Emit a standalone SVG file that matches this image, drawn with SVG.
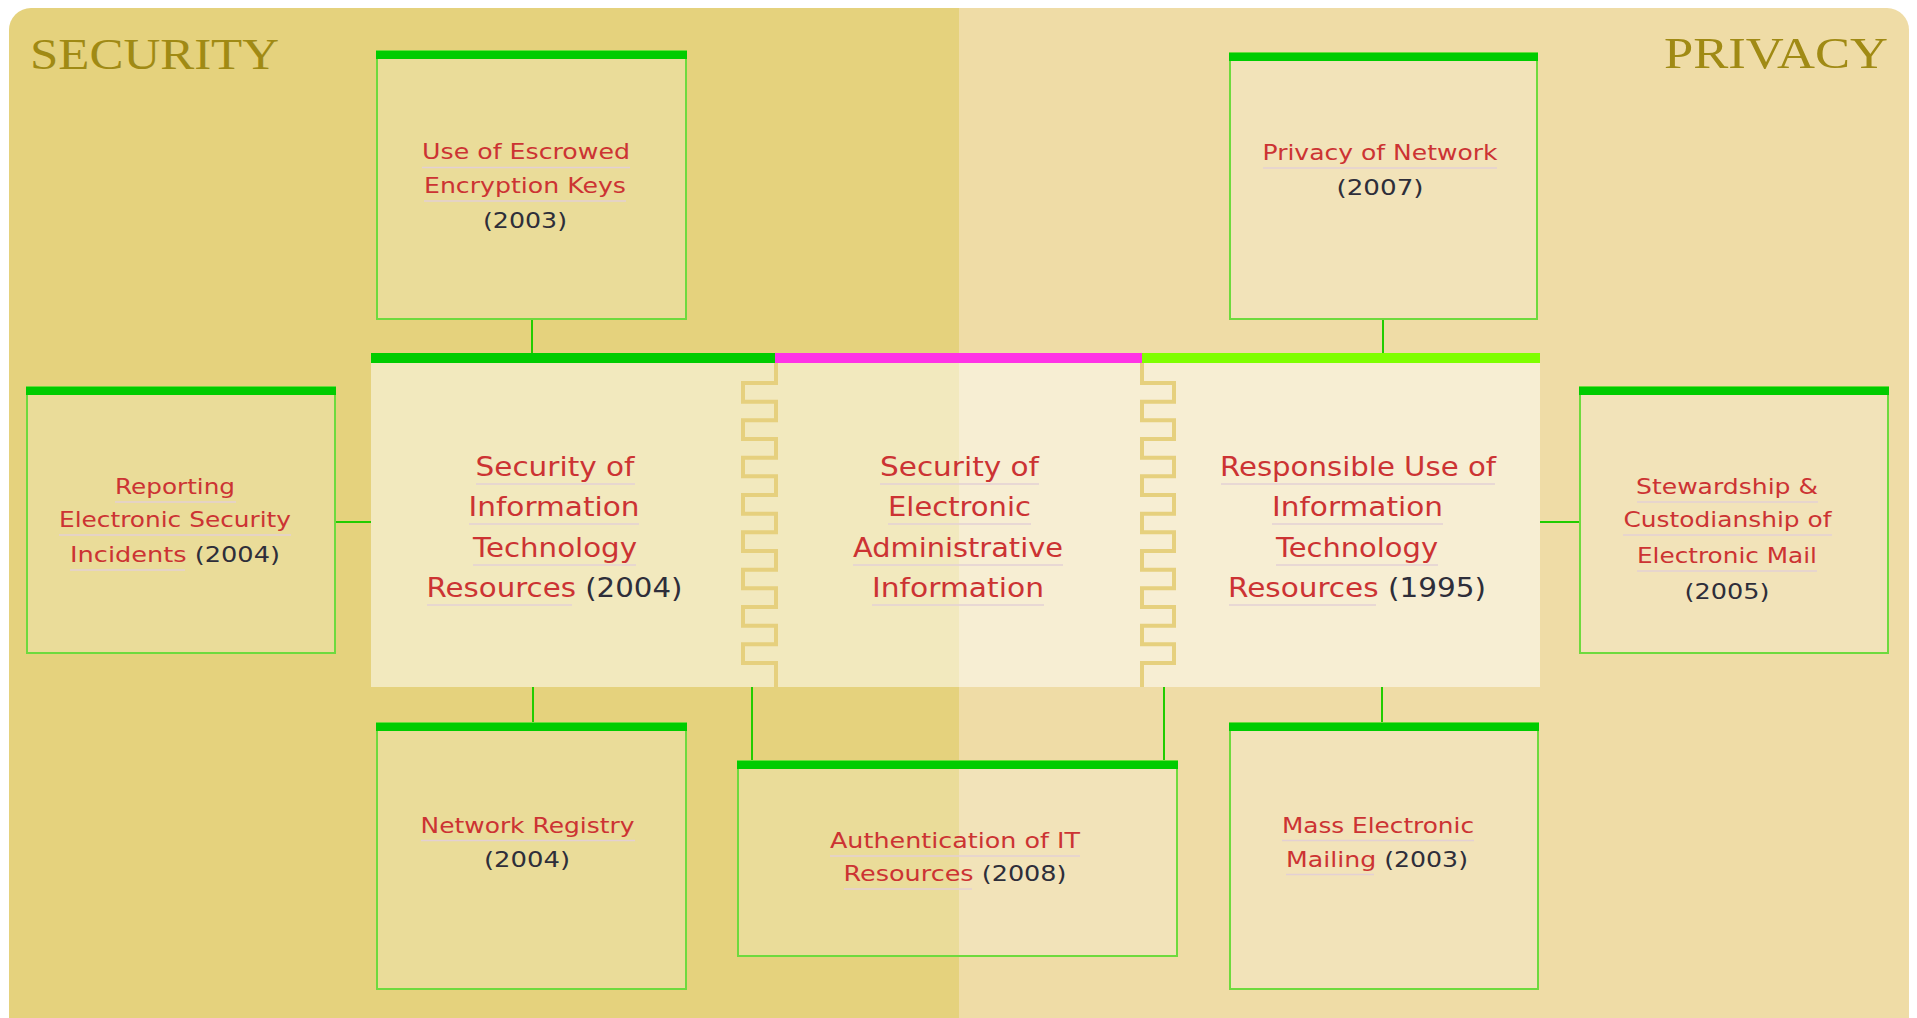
<svg xmlns="http://www.w3.org/2000/svg" width="1917" height="1018" viewBox="0 0 1917 1018">
<style>
.sat{fill:#ffffff;fill-opacity:0.22;stroke:#6EDA3E;stroke-width:2}
.bar{fill:#00CC00}
.t{font-family:"DejaVu Sans","Verdana",sans-serif;font-size:21px;fill:#CC3333;text-anchor:middle}
.c{font-size:26px}
.y{fill:#2E2E3A}
.ul{stroke:#E3D0D4;stroke-width:1.5}
.con{stroke:#22CC00;stroke-width:2;fill:none}
.zig{stroke:#E6D07E;stroke-width:4;fill:none}
.title{font-family:"Liberation Serif","Times New Roman",serif;font-size:45px;fill:#A08A14}
</style>
<rect x="0" y="0" width="1917" height="1018" fill="#ffffff"/>
<g id="background">
<path d="M9,1040 V30 A22,22 0 0 1 31,8 H959 V1040 Z" fill="#E5D27D"/>
<path d="M959,8 H1887 A22,22 0 0 1 1909,30 V1040 H959 Z" fill="#EFDCA6"/>
<text class="title" x="30" y="69" textLength="249" lengthAdjust="spacingAndGlyphs">SECURITY</text>
<text class="title" x="1664" y="68" textLength="224" lengthAdjust="spacingAndGlyphs">PRIVACY</text>
</g>
<g id="connectors">
<line class="con" x1="532" y1="319" x2="532" y2="353"/>
<line class="con" x1="1383" y1="319" x2="1383" y2="353"/>
<line class="con" x1="335" y1="522" x2="371" y2="522"/>
<line class="con" x1="1540" y1="522" x2="1580" y2="522"/>
<line class="con" x1="533" y1="687" x2="533" y2="723"/>
<line class="con" x1="752" y1="687" x2="752" y2="761"/>
<line class="con" x1="1164" y1="687" x2="1164" y2="761"/>
<line class="con" x1="1382" y1="687" x2="1382" y2="723"/>
</g>
<g id="central">
<rect x="371" y="353" width="1169" height="334" fill="#ffffff" fill-opacity="0.5"/>
<path class="zig" d="M776,363 V383 H743 V401.7 H776 V420.3 H743 V439 H776 V457.7 H743 V476.3 H776 V495 H743 V513.7 H776 V532.3 H743 V551 H776 V569.7 H743 V588.3 H776 V607 H743 V625.7 H776 V644.3 H743 V663 H776 V687"/>
<path class="zig" d="M1142,363 V383 H1174 V401.7 H1142 V420.3 H1174 V439 H1142 V457.7 H1174 V476.3 H1142 V495 H1174 V513.7 H1142 V532.3 H1174 V551 H1142 V569.7 H1174 V588.3 H1142 V607 H1174 V625.7 H1142 V644.3 H1174 V663 H1142 V687"/>
<rect x="371" y="353" width="404" height="10" fill="#00CC00"/>
<rect x="775" y="353" width="367" height="10" fill="#FF33E6"/>
<rect x="1142" y="353" width="398" height="10" fill="#7FFF00"/>
</g>
<g id="node-security-it">
<text class="t c" x="555" y="476" textLength="159" lengthAdjust="spacingAndGlyphs">Security of</text>
<text class="t c" x="554" y="516" textLength="171" lengthAdjust="spacingAndGlyphs">Information</text>
<text class="t c" x="555" y="557" textLength="164" lengthAdjust="spacingAndGlyphs">Technology</text>
<text class="t c" x="554.5" y="597" textLength="256" lengthAdjust="spacingAndGlyphs">Resources <tspan class="y">(2004)</tspan></text>
<line class="ul" x1="476" y1="484" x2="635" y2="484"/>
<line class="ul" x1="469" y1="524" x2="639" y2="524"/>
<line class="ul" x1="473" y1="565" x2="636" y2="565"/>
<line class="ul" x1="427" y1="605" x2="572" y2="605"/>
</g>
<g id="node-security-admin">
<text class="t c" x="959.5" y="476" textLength="159" lengthAdjust="spacingAndGlyphs">Security of</text>
<text class="t c" x="959.5" y="516" textLength="143" lengthAdjust="spacingAndGlyphs">Electronic</text>
<text class="t c" x="958" y="557" textLength="210" lengthAdjust="spacingAndGlyphs">Administrative</text>
<text class="t c" x="958" y="597" textLength="172" lengthAdjust="spacingAndGlyphs">Information</text>
<line class="ul" x1="880" y1="484" x2="1039" y2="484"/>
<line class="ul" x1="888" y1="524" x2="1031" y2="524"/>
<line class="ul" x1="853" y1="565" x2="1063" y2="565"/>
<line class="ul" x1="872" y1="605" x2="1044" y2="605"/>
</g>
<g id="node-responsible-use">
<text class="t c" x="1358" y="476" textLength="276" lengthAdjust="spacingAndGlyphs">Responsible Use of</text>
<text class="t c" x="1357.5" y="516" textLength="171" lengthAdjust="spacingAndGlyphs">Information</text>
<text class="t c" x="1357" y="557" textLength="162" lengthAdjust="spacingAndGlyphs">Technology</text>
<text class="t c" x="1357" y="597" textLength="258" lengthAdjust="spacingAndGlyphs">Resources <tspan class="y">(1995)</tspan></text>
<line class="ul" x1="1221" y1="484" x2="1495" y2="484"/>
<line class="ul" x1="1272" y1="524" x2="1443" y2="524"/>
<line class="ul" x1="1276" y1="565" x2="1438" y2="565"/>
<line class="ul" x1="1229" y1="605" x2="1376" y2="605"/>
</g>
<g id="node-escrowed">
<rect class="sat" x="377" y="51" width="309" height="268"/>
<rect class="bar" x="376" y="51" width="311" height="8"/>
<text class="t" x="526" y="159" textLength="208" lengthAdjust="spacingAndGlyphs">Use of Escrowed</text>
<text class="t" x="525" y="193" textLength="202" lengthAdjust="spacingAndGlyphs">Encryption Keys</text>
<text class="t y" x="525" y="228" textLength="84" lengthAdjust="spacingAndGlyphs">(2003)</text>
<line class="ul" x1="422" y1="167.5" x2="630" y2="167.5"/>
<line class="ul" x1="424" y1="201" x2="626" y2="201"/>
</g>
<g id="node-privacy-network">
<rect class="sat" x="1230" y="53" width="307" height="266"/>
<rect class="bar" x="1229" y="53" width="309" height="8"/>
<text class="t" x="1380" y="160" textLength="235" lengthAdjust="spacingAndGlyphs">Privacy of Network</text>
<text class="t y" x="1380" y="195" textLength="87" lengthAdjust="spacingAndGlyphs">(2007)</text>
<line class="ul" x1="1263" y1="168" x2="1497" y2="168"/>
</g>
<g id="node-reporting">
<rect class="sat" x="27" y="387" width="308" height="266"/>
<rect class="bar" x="26" y="387" width="310" height="8"/>
<text class="t" x="175" y="494" textLength="120" lengthAdjust="spacingAndGlyphs">Reporting</text>
<text class="t" x="175" y="527" textLength="232" lengthAdjust="spacingAndGlyphs">Electronic Security</text>
<text class="t" x="175" y="562" textLength="210" lengthAdjust="spacingAndGlyphs">Incidents <tspan class="y">(2004)</tspan></text>
<line class="ul" x1="115" y1="502" x2="236" y2="502"/>
<line class="ul" x1="59" y1="535" x2="291" y2="535"/>
<line class="ul" x1="70" y1="570" x2="185" y2="570"/>
</g>
<g id="node-stewardship">
<rect class="sat" x="1580" y="387" width="308" height="266"/>
<rect class="bar" x="1579" y="387" width="310" height="8"/>
<text class="t" x="1727" y="494" textLength="182" lengthAdjust="spacingAndGlyphs">Stewardship &amp;</text>
<text class="t" x="1727.5" y="527" textLength="208" lengthAdjust="spacingAndGlyphs">Custodianship of</text>
<text class="t" x="1727" y="563" textLength="180" lengthAdjust="spacingAndGlyphs">Electronic Mail</text>
<text class="t y" x="1727" y="599" textLength="85" lengthAdjust="spacingAndGlyphs">(2005)</text>
<line class="ul" x1="1637" y1="502" x2="1818" y2="502"/>
<line class="ul" x1="1623" y1="535" x2="1832" y2="535"/>
<line class="ul" x1="1637" y1="571" x2="1817" y2="571"/>
</g>
<g id="node-network-registry">
<rect class="sat" x="377" y="723" width="309" height="266"/>
<rect class="bar" x="376" y="723" width="311" height="8"/>
<text class="t" x="527.5" y="833" textLength="214" lengthAdjust="spacingAndGlyphs">Network Registry</text>
<text class="t y" x="527" y="867" textLength="86" lengthAdjust="spacingAndGlyphs">(2004)</text>
<line class="ul" x1="421" y1="840.5" x2="635" y2="840.5"/>
</g>
<g id="node-authentication">
<rect class="sat" x="738" y="761" width="439" height="195"/>
<rect class="bar" x="737" y="761" width="441" height="8"/>
<text class="t" x="955" y="848" textLength="250" lengthAdjust="spacingAndGlyphs">Authentication of IT</text>
<text class="t" x="955" y="881" textLength="223" lengthAdjust="spacingAndGlyphs">Resources <tspan class="y">(2008)</tspan></text>
<line class="ul" x1="830" y1="856" x2="1080" y2="856"/>
<line class="ul" x1="844" y1="889" x2="972" y2="889"/>
</g>
<g id="node-mass-mailing">
<rect class="sat" x="1230" y="723" width="308" height="266"/>
<rect class="bar" x="1229" y="723" width="310" height="8"/>
<text class="t" x="1378" y="833" textLength="192" lengthAdjust="spacingAndGlyphs">Mass Electronic</text>
<text class="t" x="1377" y="867" textLength="182" lengthAdjust="spacingAndGlyphs">Mailing <tspan class="y">(2003)</tspan></text>
<line class="ul" x1="1282" y1="840.5" x2="1474" y2="840.5"/>
<line class="ul" x1="1286" y1="874.5" x2="1374" y2="874.5"/>
</g>
</svg>
